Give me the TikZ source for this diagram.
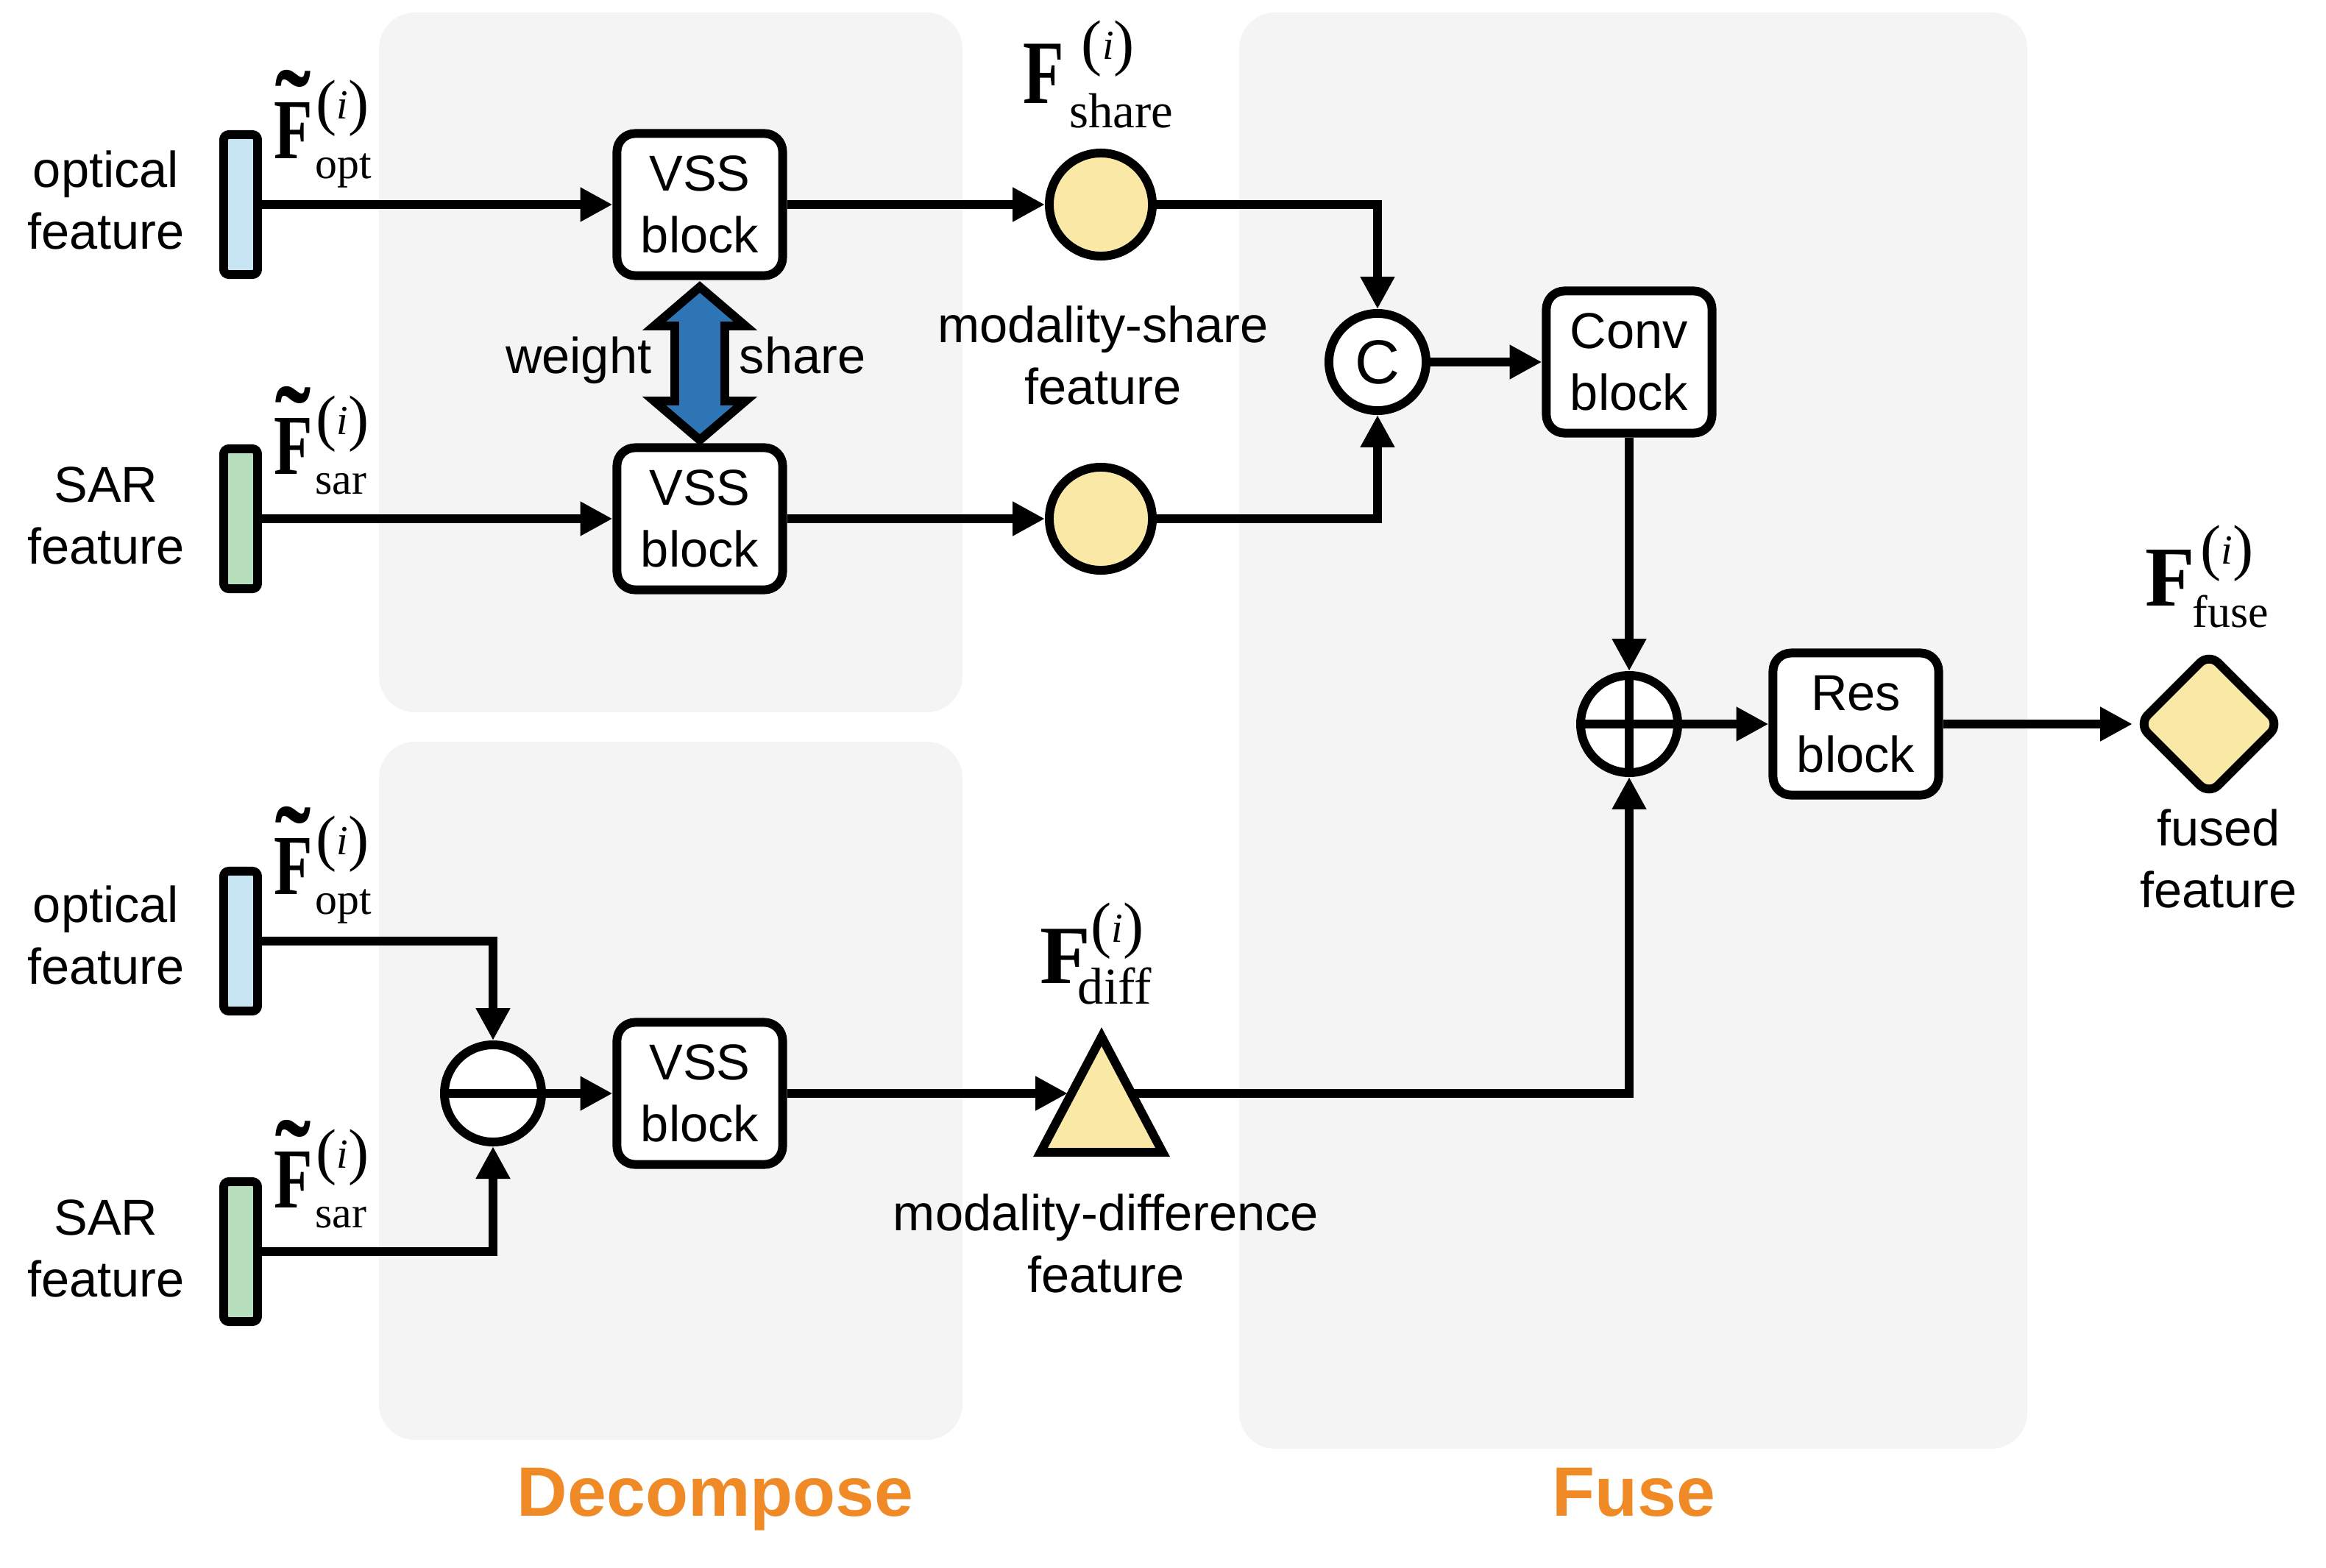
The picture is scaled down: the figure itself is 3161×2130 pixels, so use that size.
\documentclass[tikz,border=0pt]{standalone}
\usepackage{fontspec}
\setmainfont{Liberation Sans}
\newfontfamily\tms{Liberation Serif}
\usepackage{graphicx}
\usetikzlibrary{arrows.meta,shapes.geometric}
\definecolor{panelgray}{HTML}{F4F4F4}
\definecolor{optblue}{RGB}{199,229,242}
\definecolor{sargreen}{RGB}{183,223,190}
\definecolor{featyel}{RGB}{250,232,166}
\definecolor{shareblue}{RGB}{46,117,182}
\definecolor{titleorange}{RGB}{239,138,38}
% F label: #1 Fsize #2 xscale #3 subgap #4 subtext #5 subsize #6 subdrop #7 supgap #8 supraise
\newcommand{\FL}[8]{{\tms\scalebox{#2}[1]{\fontsize{#1}{#1}\selectfont\bfseries F}\rlap{\hspace{#3}\raisebox{-#6}{\fontsize{#5}{#5}\selectfont #4}}\hspace{#7}\raisebox{#8}{\fontsize{24}{24}\selectfont(\raisebox{1.6pt}{\fontsize{16}{16}\selectfont\itshape i\/})}}}
\newcommand{\TL}{\rlap{\makebox[14.5pt][c]{\raisebox{22.5pt}{\scalebox{1.2}[1.3]{\raisebox{-14.9pt}{\tms\fontsize{34}{34}\selectfont\bfseries\symbol{"02DC}}}}}}}
\tikzset{
  panel/.style={fill=panelgray, draw=none, rounded corners=14pt},
  featbar/.style={draw, line width=3.4pt, minimum width=0.46cm, minimum height=1.9cm, inner sep=0, rounded corners=2pt},
  blockbox/.style={draw, fill=white, line width=3.4pt, rounded corners=7pt, minimum width=2.25cm, minimum height=1.93cm, align=center, inner sep=0, font=\fontsize{19.5}{24}\selectfont},
  featcirc/.style={draw, fill=featyel, circle, line width=3.4pt, minimum size=1.40cm, inner sep=0},
  opcirc/.style={draw, fill=white, circle, line width=3.4pt, minimum size=1.32cm, inner sep=0, font=\fontsize{24}{24}\selectfont},
  txt/.style={font=\fontsize{19.5}{24}\selectfont, align=center, inner sep=0},
  mathlbl/.style={anchor=base west, inner sep=0},
  arr/.style={line width=3.4pt, -{Triangle[length=12.5pt,width=12.5pt]}},
  plainline/.style={line width=3.4pt},
  title/.style={font=\fontsize{27}{27}\selectfont\bfseries, text=titleorange, inner sep=0, anchor=base}
}
\begin{document}
\begin{tikzpicture}[x=0.01cm,y=-0.01cm]
\useasboundingbox (0,0) rectangle (3161,2130);
% panels
\fill[panel] (515,17) rectangle (1308,968);
\fill[panel] (515,1008) rectangle (1308,1957);
\fill[panel] (1684,17) rectangle (2755,1969);

% feature bars
\node[featbar, fill=optblue] (ob1) at (327,278) {};
\node[featbar, fill=sargreen] (sb1) at (327,705) {};
\node[featbar, fill=optblue] (ob2) at (327,1279) {};
\node[featbar, fill=sargreen] (sb2) at (327,1701) {};

% left labels
\node[txt] (tob1) at (144,272) {optical\\feature};
\node[txt] (tsb1) at (144,701) {SAR\\feature};
\node[txt] (tob2) at (144,1271) {optical\\feature};
\node[txt] (tsb2) at (144,1697) {SAR\\feature};

% math labels
\node[mathlbl] (lo1) at (372,215) {\TL\FL{33}{0.74}{1pt}{opt}{17}{7.7pt}{1.3pt}{13.5pt}};
\node[mathlbl] (ls1) at (372,644) {\TL\FL{33}{0.74}{1pt}{sar}{17}{7.7pt}{1.3pt}{13.5pt}};
\node[mathlbl] (lo2) at (372,1215) {\TL\FL{33}{0.74}{1pt}{opt}{17}{7.7pt}{1.3pt}{13.5pt}};
\node[mathlbl] (ls2) at (372,1641) {\TL\FL{33}{0.74}{1pt}{sar}{17}{7.7pt}{1.3pt}{13.5pt}};
\node[mathlbl] (lshare) at (1390,140) {\FL{35}{0.74}{2pt}{share}{19}{9.4pt}{6.7pt}{15.2pt}};
\node[mathlbl] (lfuse) at (2915,823) {\FL{33}{0.95}{-1pt}{fuse}{17.6}{8.3pt}{2.2pt}{14.4pt}};
\node[mathlbl] (ldiff) at (1413,1336) {\FL{32}{1}{-5pt}{diff}{20}{8.1pt}{0pt}{14.3pt}};

% blocks
\node[blockbox] (vss1) at (951,278) {VSS\\block};
\node[blockbox] (vss2) at (951,705) {VSS\\block};
\node[blockbox] (vss3) at (951,1486) {VSS\\block};
\node[blockbox] (conv) at (2214,492) {Conv\\block};
\node[blockbox] (res) at (2522,984) {Res\\block};

% weight share double arrow
\draw[line width=3.4pt, fill=shareblue, line join=miter]
  (951,390) -- (1013,443) -- (985,443) -- (985,545) -- (1013,545) -- (951,598)
  -- (889,545) -- (917,545) -- (917,443) -- (889,443) -- cycle;
\node[txt, anchor=base east] (tw) at (886,507) {weight};
\node[txt, anchor=base west] (tsh) at (1004,507) {share};

% feature circles
\node[featcirc] (sh1) at (1496,278) {};
\node[featcirc] (sh2) at (1496,705) {};
\node[txt] (tms) at (1499,483) {modality-share\\feature};

% operators
\node[opcirc] (cc) at (1872,492) {C};
\node[opcirc] (pl) at (2214,984) {};
\draw[plainline] (pl.west) -- (pl.east);
\draw[plainline] (pl.north) -- (pl.south);
\node[opcirc] (mn) at (670,1486) {};
\draw[plainline] (mn.west) -- (mn.east);

% difference triangle
\draw[line width=3.4pt, fill=featyel, line join=miter] (1497,1409) -- (1580,1566) -- (1414,1566) -- cycle;
\coordinate (triL) at (1451,1486);
\coordinate (triR) at (1541,1486);
\node[txt] (tmd) at (1503,1690) {modality-difference\\feature};

% fused diamond
\node[draw, fill=featyel, diamond, line width=3.4pt, minimum width=1.96cm, minimum height=1.96cm, inner sep=0, rounded corners=5pt] (fz) at (3002,984) {};
\node[txt] (tfz) at (3015,1167) {fused\\feature};

% connectors
\draw[arr] (ob1.east) -- (vss1.west);
\draw[arr] (sb1.east) -- (vss2.west);
\draw[arr] (vss1.east) -- (sh1.west);
\draw[arr] (vss2.east) -- (sh2.west);
\draw[arr] (sh1.east) -| (cc.north);
\draw[arr] (sh2.east) -| (cc.south);
\draw[arr] (cc.east) -- (conv.west);
\draw[arr] (conv.south) -- (pl.north);
\draw[arr] (pl.east) -- (res.west);
\draw[arr] (res.east) -- (fz.west);
\draw[arr] (ob2.east) -| (mn.north);
\draw[arr] (sb2.east) -| (mn.south);
\draw[arr] (mn.east) -- (vss3.west);
\draw[arr] (vss3.east) -- (triL);
\draw[arr] (triR) -| (pl.south);

% titles
\node[title] (tdec) at (972,2060) {Decompose};
\node[title] (tfuse) at (2220,2060) {Fuse};
\end{tikzpicture}
\end{document}
